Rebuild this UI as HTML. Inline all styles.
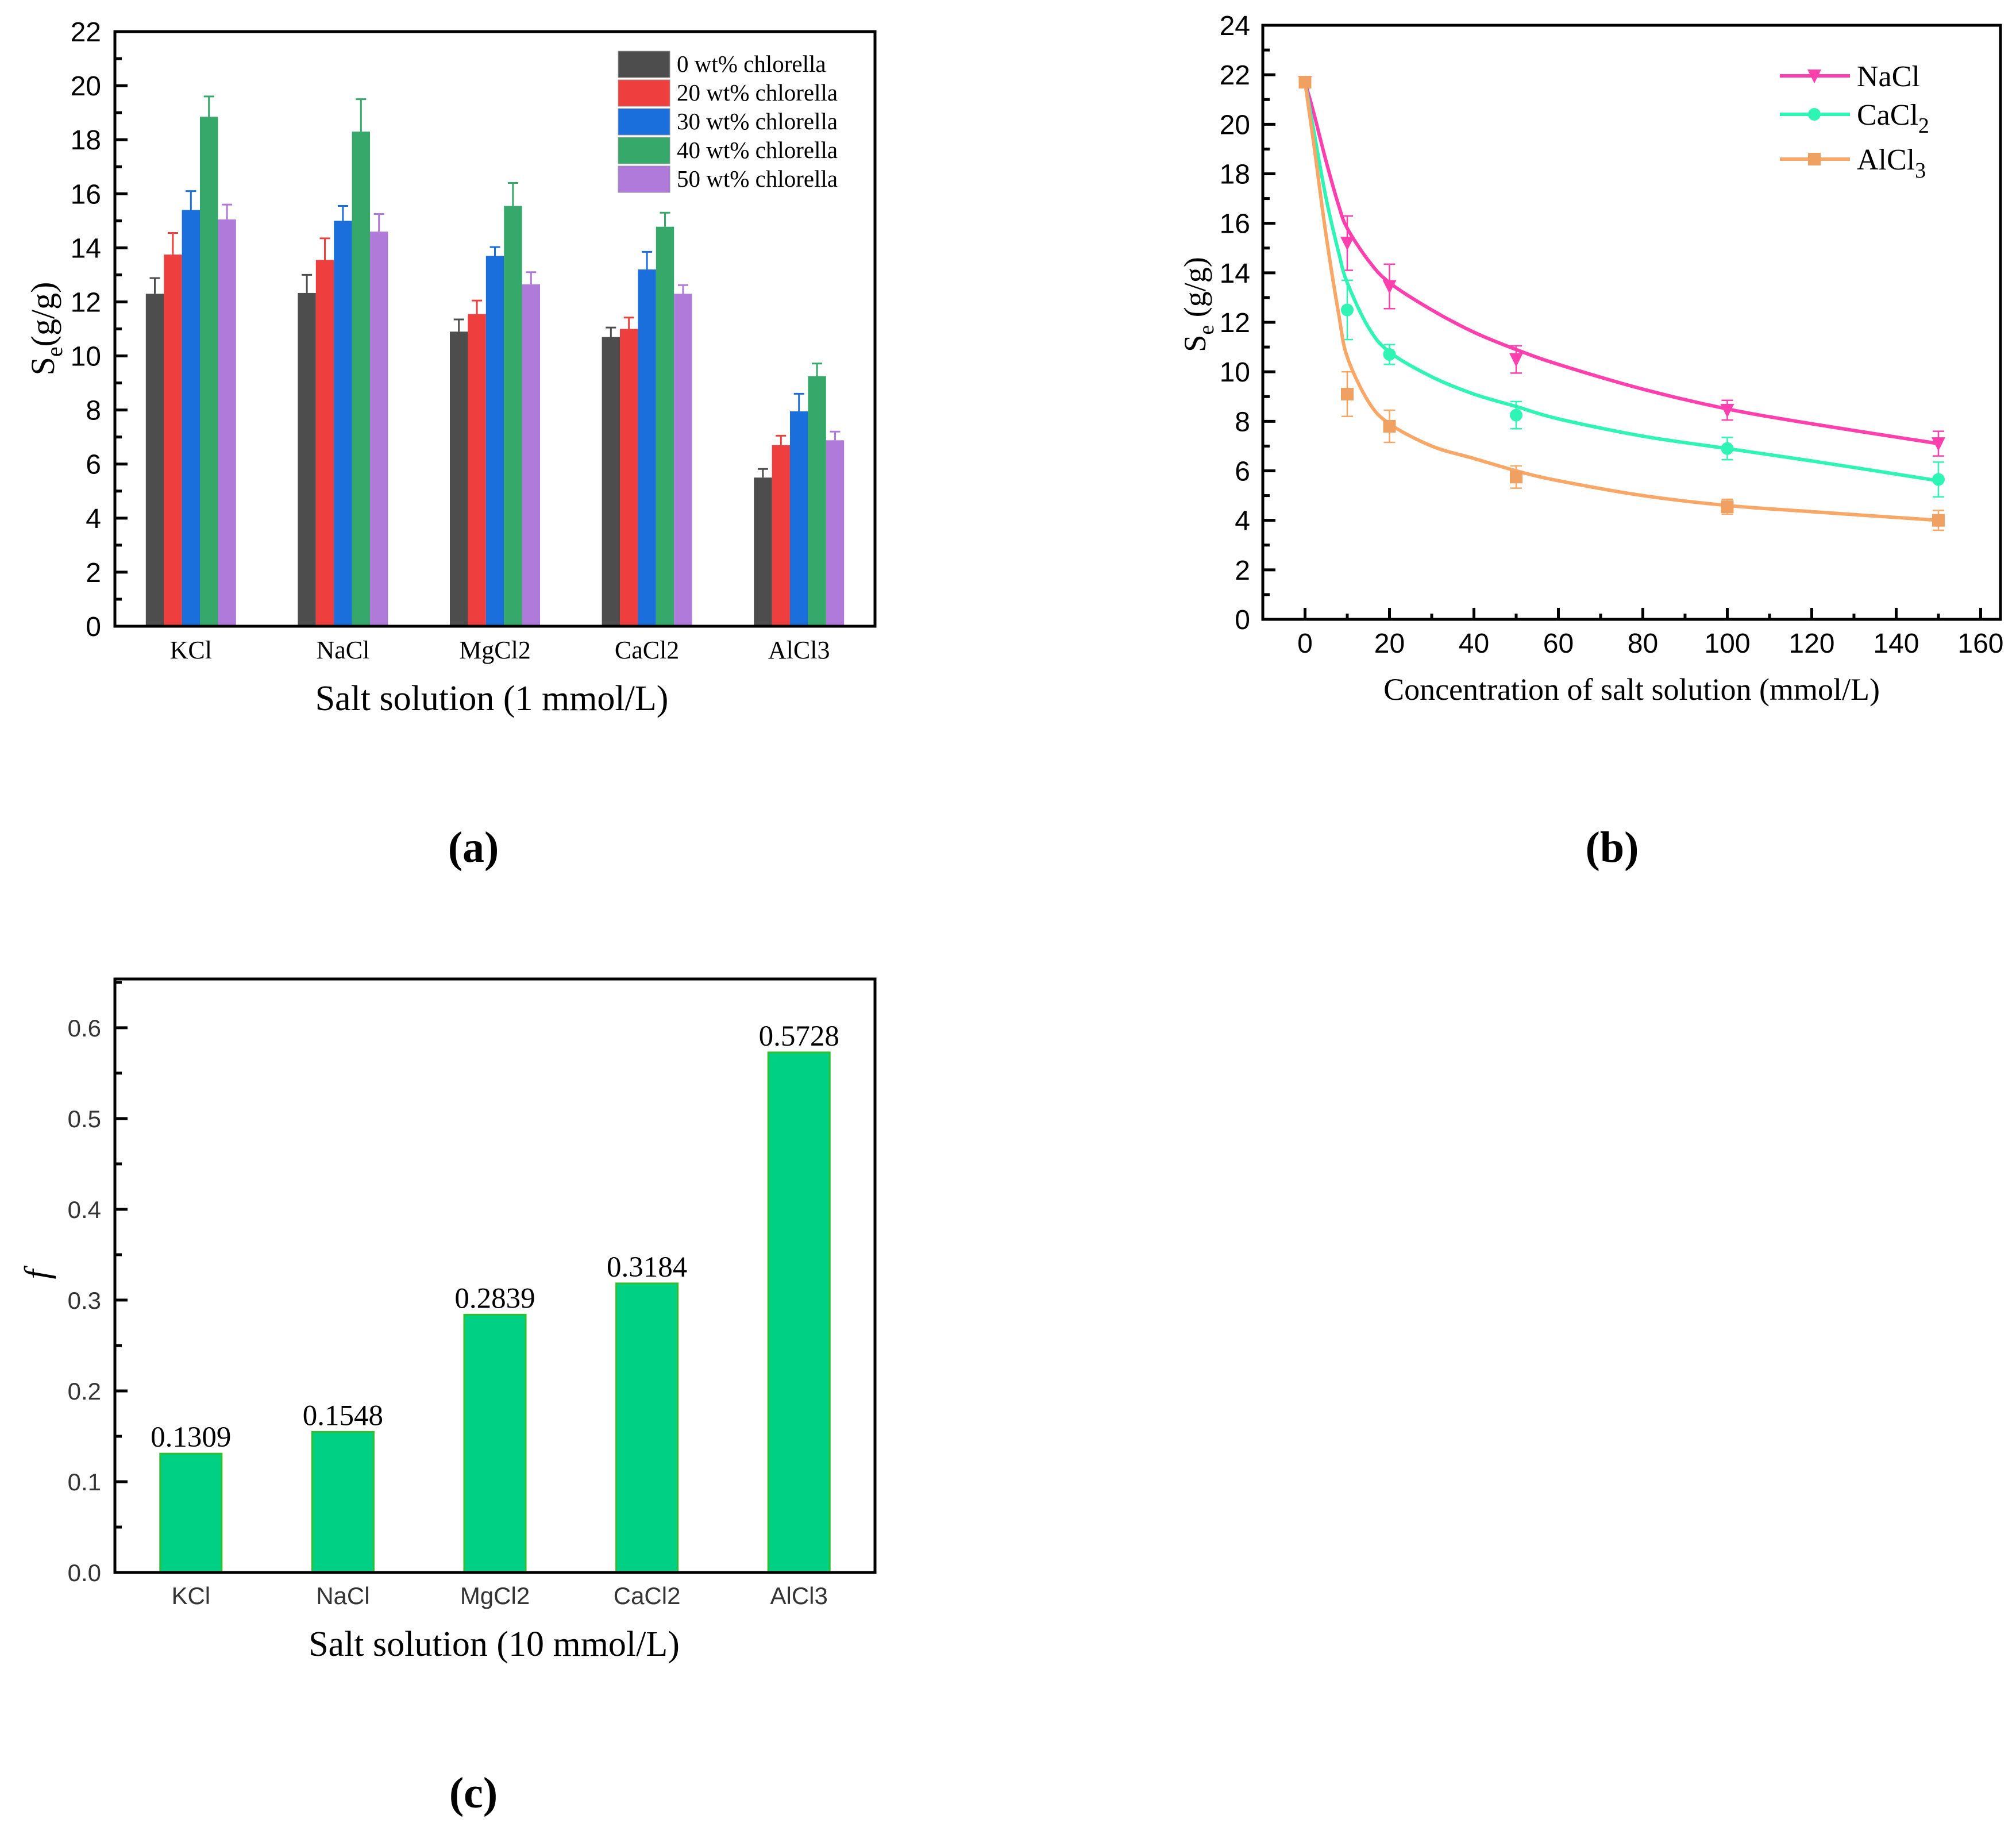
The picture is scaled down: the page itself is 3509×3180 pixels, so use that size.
<!DOCTYPE html>
<html><head><meta charset="utf-8"><style>
html,body{margin:0;padding:0;background:#fff;}
svg{display:block;}
.sans{font-family:"Liberation Sans",Arial,sans-serif;}
.serif{font-family:"Liberation Serif","Times New Roman",serif;}
</style></head><body>
<svg id="fig" width="3509" height="3180" viewBox="0 0 3509 3180" xmlns="http://www.w3.org/2000/svg">
<rect width="3509" height="3180" fill="#fff"/>
<g id="chartA"></g>
<g id="chartB"></g>
<g id="chartC"></g>
<text x="824" y="1500" text-anchor="middle" class="serif" font-size="76" font-weight="bold">(a)</text>
<text x="2806" y="1500" text-anchor="middle" class="serif" font-size="76" font-weight="bold">(b)</text>
<text x="824" y="3146" text-anchor="middle" class="serif" font-size="76" font-weight="bold">(c)</text>
</svg>
<script>
// ---------- Chart A data ----------
const aCategories = ["KCl","NaCl","MgCl2","CaCl2","AlCl3"];
const aSeriesNames = ["0  wt% chlorella","20 wt% chlorella","30 wt% chlorella","40 wt% chlorella","50 wt% chlorella"];
const aVal0  = [12.3, 12.33, 10.9, 10.7, 5.5];
const aVal20 = [13.75, 13.55, 11.55, 11.0, 6.7];
const aVal30 = [15.4, 15.0, 13.7, 13.2, 7.95];
const aVal40 = [18.85, 18.3, 15.55, 14.78, 9.25];
const aVal50 = [15.05, 14.6, 12.65, 12.3, 6.88];
const aErr0  = [0.58, 0.67, 0.45, 0.35, 0.32];
const aErr20 = [0.8, 0.8, 0.5, 0.42, 0.35];
const aErr30 = [0.7, 0.55, 0.33, 0.65, 0.65];
const aErr40 = [0.75, 1.2, 0.85, 0.52, 0.47];
const aErr50 = [0.55, 0.65, 0.45, 0.32, 0.32];
const aYTicks = [0,2,4,6,8,10,12,14,16,18,20,22];

// ---------- Chart B data ----------
const bX = [0,10,20,50,100,150];
const bNaCl = [21.7, 15.2, 13.45, 10.5, 8.45, 7.1];
const bCaCl2 = [21.7, 12.5, 10.7, 8.25, 6.9, 5.65];
const bAlCl3 = [21.7, 9.1, 7.8, 5.75, 4.55, 4.0];
const bNaClErr = [0.1, 1.1, 0.9, 0.55, 0.4, 0.5];
const bCaCl2Err = [0.1, 1.2, 0.4, 0.55, 0.45, 0.7];
const bAlCl3Err = [0.1, 0.9, 0.65, 0.45, 0.3, 0.4];
const bFitX = [0,2,5,8,10,15,20,30,40,50,60,80,100,120,150];
const bFitNaCl = [21.7,20.5,18.5,16.7,15.8,14.5,13.6,12.5,11.6,10.9,10.3,9.3,8.5,7.9,7.1];
const bFitCaCl2 = [21.7,19.8,17.0,14.8,13.6,11.8,10.8,9.8,9.1,8.6,8.1,7.4,6.9,6.4,5.6];
const bFitAlCl3 = [21.7,19.3,15.5,12.3,10.6,8.8,7.9,7.0,6.5,6.0,5.6,5.0,4.6,4.35,4.0];
const bXTicks = [0,20,40,60,80,100,120,140,160];
const bYTicks = [0,2,4,6,8,10,12,14,16,18,20,22,24];

// ---------- Chart C data ----------
const cCategories = ["KCl","NaCl","MgCl2","CaCl2","AlCl3"];
const cValues = [0.1309, 0.1548, 0.2839, 0.3184, 0.5728];
const cLabels = ["0.1309","0.1548","0.2839","0.3184","0.5728"];
const cYTicks = ["0.0","0.1","0.2","0.3","0.4","0.5","0.6"];

const NS = "http://www.w3.org/2000/svg";
function mk(parent, tag, attrs, text){
  const e = document.createElementNS(NS, tag);
  for (const k in attrs) e.setAttribute(k, attrs[k]);
  if (text !== undefined) e.textContent = text;
  parent.appendChild(e);
  return e;
}

// ================= Chart A =================
(function(){
  const g = document.getElementById('chartA');
  const L=200, R=1523, T=55, B=1090;
  const yMax = 22;
  const y = v => B - v/yMax*(B-T);
  const band = (R-L)/aCategories.length;
  const xc = i => L + (i+0.5)*band;
  const bw = 31.4;
  const colors = ["#4d4d4d","#ef3e3e","#1a6fdc","#36a96a","#b07adb"];
  const vals = [aVal0,aVal20,aVal30,aVal40,aVal50];
  const errs = [aErr0,aErr20,aErr30,aErr40,aErr50];
  aYTicks.forEach((t,k)=>{
    const tk = mk(g,'line',{x1:L,x2:L+22,y1:y(t),y2:y(t),stroke:'#000','stroke-width':5});
    
    
    const mt = t+1;
    if (mt < yMax){
      const m = mk(g,'line',{x1:L,x2:L+12,y1:y(mt),y2:y(mt),stroke:'#000','stroke-width':5});
      
      
    }
    const lb = mk(g,'text',{x:L-24,y:y(t)+17,'text-anchor':'end','font-size':48,class:'sans'},String(t));
    
    
  });
  aCategories.forEach((c,i)=>{
    vals.forEach((arr,s)=>{
      const x0 = xc(i) - 2.5*bw + s*bw;
      const r = mk(g,'rect',{x:x0,y:y(arr[i]),width:bw,height:B-y(arr[i]),fill:colors[s]});
      
      
      const cx = x0+bw/2, top = y(arr[i]+errs[s][i]);
      const e1 = mk(g,'line',{x1:cx,x2:cx,y1:y(arr[i]),y2:top,stroke:colors[s],'stroke-width':3});
      
      
      const e2 = mk(g,'line',{x1:cx-9,x2:cx+9,y1:top,y2:top,stroke:colors[s],'stroke-width':3});
      
      
    });
    const lb = mk(g,'text',{x:xc(i),y:1146,'text-anchor':'middle','font-size':44,class:'serif'},c);
    
    
  });
  const fr = mk(g,'rect',{x:L,y:T,width:R-L,height:B-T,fill:'none',stroke:'#000','stroke-width':5});
  
  
  const ly = [112,162,212,262,312];
  aSeriesNames.forEach((n,s)=>{
    const r = mk(g,'rect',{x:1076,y:ly[s]-23,width:90,height:46,fill:colors[s],stroke:'#999','stroke-width':1});
    
    
    const t = mk(g,'text',{x:1178,y:ly[s]+13,'font-size':41,class:'serif','xml:space':'preserve'},n);
    
    
  });
  const xt = mk(g,'text',{x:856,y:1236,'text-anchor':'middle','font-size':62,class:'serif'},'Salt solution (1 mmol/L)');
  
  
  const yt = mk(g,'text',{transform:'translate(94,572) rotate(-90)','text-anchor':'middle','font-size':58,class:'serif'});
  
  
  mk(yt,'tspan',{},'S');
  mk(yt,'tspan',{dy:14,'font-size':40},'e');
  mk(yt,'tspan',{dy:-14},'(g/g)');
})();

// ================= Chart B =================
(function(){
  const g = document.getElementById('chartB');
  const L=2198, R=3482, T=44, B=1078;
  const xMin=-10, xMax=164.7, yMax=24;
  const x = v => L + (v-xMin)/(xMax-xMin)*(R-L);
  const y = v => B - v/yMax*(B-T);
  bYTicks.forEach(t=>{
    const tk = mk(g,'line',{x1:L,x2:L+22,y1:y(t),y2:y(t),stroke:'#000','stroke-width':5});
    
    
    if (t+1<yMax){
      const m = mk(g,'line',{x1:L,x2:L+12,y1:y(t+1),y2:y(t+1),stroke:'#000','stroke-width':5});
      
      
    }
    const lb = mk(g,'text',{x:L-22,y:y(t)+17,'text-anchor':'end','font-size':48,class:'sans'},String(t));
    
    
  });
  bXTicks.forEach(t=>{
    const tk = mk(g,'line',{x1:x(t),x2:x(t),y1:B,y2:B-20,stroke:'#000','stroke-width':5});
    
    
    if (t+10<xMax){
      const m = mk(g,'line',{x1:x(t+10),x2:x(t+10),y1:B,y2:B-10,stroke:'#000','stroke-width':5});
      
      
    }
    const lb = mk(g,'text',{x:x(t),y:B+58,'text-anchor':'middle','font-size':48,class:'sans'},String(t));
    
    
  });
  function smooth(xs, ys){
    const p = xs.map((v,i)=>[x(v),y(ys[i])]);
    let d = 'M'+p[0][0]+','+p[0][1];
    for (let i=0;i<p.length-1;i++){
      const p0=p[Math.max(0,i-1)], p1=p[i], p2=p[i+1], p3=p[Math.min(p.length-1,i+2)];
      const c1=[p1[0]+(p2[0]-p0[0])/6, p1[1]+(p2[1]-p0[1])/6];
      const c2=[p2[0]-(p3[0]-p1[0])/6, p2[1]-(p3[1]-p1[1])/6];
      d += ' C'+c1[0]+','+c1[1]+' '+c2[0]+','+c2[1]+' '+p2[0]+','+p2[1];
    }
    return d;
  }
  const series = [
    {name:'NaCl', fit:bFitNaCl, v:bNaCl, e:bNaClErr, c:'#ff3fae', m:'tri'},
    {name:'CaCl2', fit:bFitCaCl2, v:bCaCl2, e:bCaCl2Err, c:'#2ef5b4', m:'circle'},
    {name:'AlCl3', fit:bFitAlCl3, v:bAlCl3, e:bAlCl3Err, c:'#f8a766', m:'square'}
  ];
  function marker(type, cx, cy, col){
    let el;
    if (type==='tri') el = mk(g,'path',{d:`M${cx-12},${cy-11} L${cx+12},${cy-11} L${cx},${cy+13} Z`,fill:col});
    else if (type==='circle') el = mk(g,'circle',{cx:cx,cy:cy,r:11,fill:col});
    else el = mk(g,'rect',{x:cx-11,y:cy-11,width:22,height:22,fill:'#f0a060'});
    return el;
  }
  series.forEach(s=>{
    const p = mk(g,'path',{d:smooth(bFitX,s.fit),fill:'none',stroke:s.c,'stroke-width':6});
    
    
    bX.forEach((xv,i)=>{
      const cx=x(xv), yt=y(s.v[i]+s.e[i]), yb=y(s.v[i]-s.e[i]);
      const eb = mk(g,'path',{d:`M${cx},${yt} V${yb} M${cx-10},${yt} H${cx+10} M${cx-10},${yb} H${cx+10}`,stroke:s.c,'stroke-width':2.5,fill:'none'});
      
      
      const mkEl = marker(s.m,cx,y(s.v[i]),s.c);
      
      
    });
  });
  const fr = mk(g,'rect',{x:L,y:T,width:R-L,height:B-T,fill:'none',stroke:'#000','stroke-width':5});
  
  
  const ly=[132,199,277];
  const lnames=[['NaCl',''],['CaCl','2'],['AlCl','3']];
  series.forEach((s,i)=>{
    const ln = mk(g,'line',{x1:3098,x2:3220,y1:ly[i],y2:ly[i],stroke:s.c,'stroke-width':6});
    
    
    const m = marker(s.m,3158,ly[i],s.c);
    
    
    const t = mk(g,'text',{x:3232,y:ly[i]+18,'font-size':52,class:'serif'});
    
    
    mk(t,'tspan',{},lnames[i][0]);
    if (lnames[i][1]) mk(t,'tspan',{dy:14,'font-size':38},lnames[i][1]);
  });
  const xt = mk(g,'text',{x:2840,y:1218,'text-anchor':'middle','font-size':54,class:'serif'},'Concentration of salt solution (mmol/L)');
  
  
  const yt = mk(g,'text',{transform:'translate(2098,530) rotate(-90)','text-anchor':'middle','font-size':54,class:'serif'});
  
  
  mk(yt,'tspan',{},'S');
  mk(yt,'tspan',{dy:14,'font-size':38},'e');
  mk(yt,'tspan',{dy:-14},' (g/g)');
})();

// ================= Chart C =================
(function(){
  const g = document.getElementById('chartC');
  const L=200, R=1523, T=1704, B=2737;
  const yMax = 0.6537;
  const y = v => B - v/yMax*(B-T);
  const band = (R-L)/cCategories.length;
  const xc = i => L+(i+0.5)*band;
  const bw = 107;
  cYTicks.forEach(t=>{
    const v = parseFloat(t);
    const tk = mk(g,'line',{x1:L,x2:L+22,y1:y(v),y2:y(v),stroke:'#000','stroke-width':5});
    
    
    const mv = v+0.05;
    const m = mk(g,'line',{x1:L,x2:L+12,y1:y(mv),y2:y(mv),stroke:'#000','stroke-width':5});
    
    
    const lb = mk(g,'text',{x:L-24,y:y(v)+15,'text-anchor':'end','font-size':42,class:'sans',fill:'#333'},t);
    
    
  });
  cCategories.forEach((c,i)=>{
    const r = mk(g,'rect',{x:xc(i)-bw/2,y:y(cValues[i]),width:bw,height:B-y(cValues[i]),fill:'#00d084',stroke:'#2fbf2f','stroke-width':3});
    
    
    const vl = mk(g,'text',{x:xc(i),y:y(cValues[i])-12,'text-anchor':'middle','font-size':51,class:'serif'},cLabels[i]);
    
    
    const lb = mk(g,'text',{x:xc(i),y:2792,'text-anchor':'middle','font-size':42,class:'sans',fill:'#333'},c);
    
    
  });
  const fr = mk(g,'rect',{x:L,y:T,width:R-L,height:B-T,fill:'none',stroke:'#000','stroke-width':5});
  
  
  const xt = mk(g,'text',{x:860,y:2882,'text-anchor':'middle','font-size':62,class:'serif'},'Salt solution (10 mmol/L)');
  
  
  const yt = mk(g,'text',{transform:'translate(84,2218) rotate(-90)','text-anchor':'middle','font-size':60,'font-style':'italic',class:'serif'},'f');
  
  
})();
</script>
</body></html>
